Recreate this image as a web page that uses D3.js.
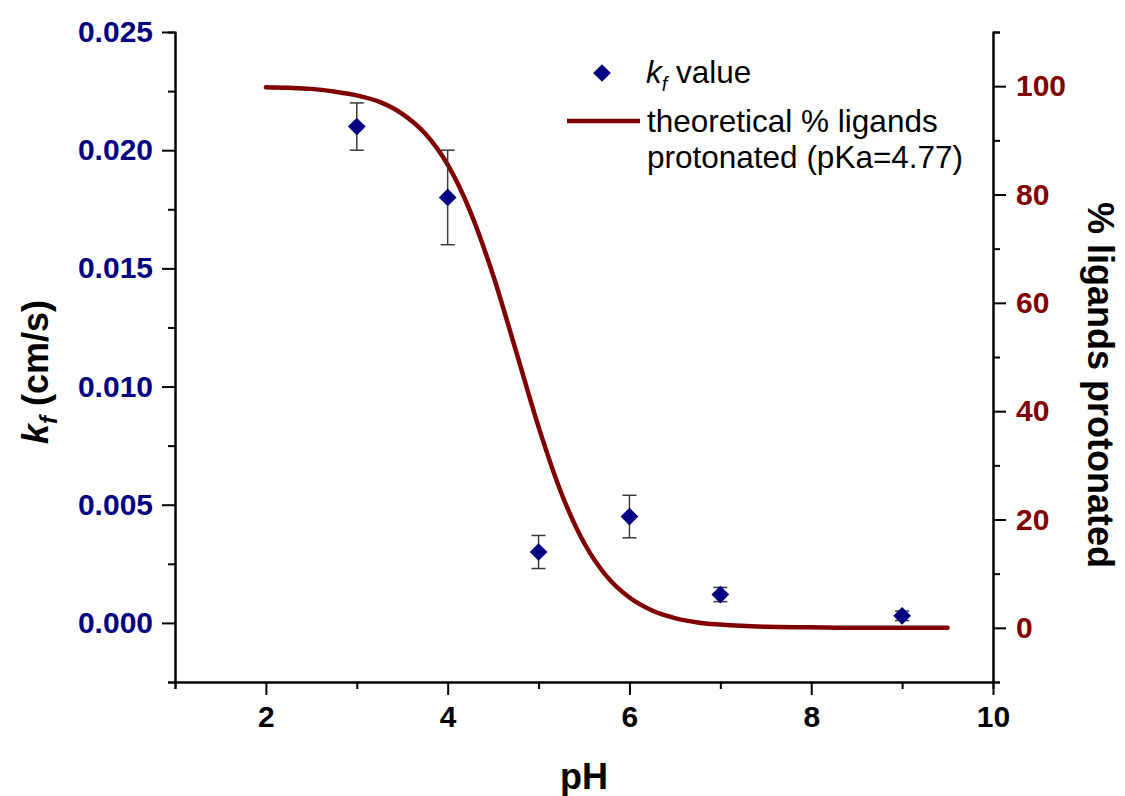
<!DOCTYPE html>
<html>
<head>
<meta charset="utf-8">
<script src="https://cdn.jsdelivr.net/npm/d3@7"></script>
<style>
  body { margin: 0; background: #fff; }
  svg text { font-family: Arial, "Liberation Sans", sans-serif; }
</style>
</head>
<body>
<svg id="chart" width="1125" height="796"></svg>
<script>
// measured kf values
var phValues = [3, 4, 5, 6, 7, 9];
var kfValues = [0.0210, 0.0180, 0.0030, 0.0045, 0.0012, 0.0003];
var kfErrUp = [0.0010, 0.0020, 0.0007, 0.0009, 0.0003, 0.0002];
var kfErrDown = [0.0010, 0.0020, 0.0007, 0.0009, 0.0003, 0.0002];

// theoretical curve
var curvePH = [2.0, 2.25, 2.5, 2.75, 3.0, 3.25, 3.5, 3.75, 4.0, 4.25, 4.5, 4.75, 5.0, 5.25, 5.5, 5.75, 6.0, 6.25, 6.5, 6.75, 7.0, 7.5, 8.0, 8.5, 9.0, 9.5];
var curvePct = [99.8, 99.7, 99.5, 99.0, 98.3, 97.1, 94.9, 91.3, 85.5, 76.8, 65.1, 51.2, 37.1, 24.9, 15.7, 9.5, 5.6, 3.2, 1.8, 1.0, 0.6, 0.2, 0.1, 0.0, 0.0, 0.0];

var xMajor = [2, 4, 6, 8, 10];
var xMinor = [1, 3, 5, 7, 9];
var yLeftMajor = [0, 0.005, 0.010, 0.015, 0.020, 0.025];
var yLeftMinor = [-0.0025, 0.0025, 0.0075, 0.0125, 0.0175, 0.0225];
var yRightMajor = [0, 20, 40, 60, 80, 100];
var yRightMinor = [-10, 10, 30, 50, 70, 90, 110];

var navy = "#000080",
    maroon = "#800000";

var svg = d3.select("#chart");
var plotLeft = 175, plotRight = 993, plotTop = 32, plotBottom = 682;

var x = d3.scaleLinear().domain([1, 10]).range([plotLeft, plotRight]);
var yL = d3.scaleLinear().domain([-0.0025, 0.025]).range([plotBottom, plotTop]);
var yR = d3.scaleLinear().domain([-10, 110]).range([plotBottom, plotTop]);

function styleAxis(g, color) {
    g.select(".domain").attr("stroke", "#000").attr("stroke-width", 2);
    g.selectAll(".tick line").attr("stroke", "#000").attr("stroke-width", 2);
    g.selectAll(".tick text")
        .attr("fill", color)
        .style("font-size", "30px")
        .style("font-weight", "bold");
}

// minor ticks first
svg.append("g")
    .attr("transform", "translate(0," + plotBottom + ")")
    .call(d3.axisBottom(x).tickValues(xMinor).tickSize(7).tickFormat(""))
    .call(function (g) { styleAxis(g, "#000"); });
svg.append("g")
    .attr("transform", "translate(" + plotLeft + ",0)")
    .call(d3.axisLeft(yL).tickValues(yLeftMinor).tickSize(7).tickFormat(""))
    .call(function (g) { styleAxis(g, navy); });
svg.append("g")
    .attr("transform", "translate(" + plotRight + ",0)")
    .call(d3.axisRight(yR).tickValues(yRightMinor).tickSize(7).tickFormat(""))
    .call(function (g) { styleAxis(g, maroon); });

// major ticks
svg.append("g")
    .attr("transform", "translate(0," + plotBottom + ")")
    .call(d3.axisBottom(x).tickValues(xMajor).tickSize(13).tickSizeOuter(0).tickPadding(11).tickFormat(d3.format("d")))
    .call(function (g) { styleAxis(g, "#000"); });
svg.append("g")
    .attr("transform", "translate(" + plotLeft + ",0)")
    .call(d3.axisLeft(yL).tickValues(yLeftMajor).tickSize(13).tickSizeOuter(0).tickPadding(9).tickFormat(d3.format(".3f")))
    .call(function (g) { styleAxis(g, navy); });
svg.append("g")
    .attr("transform", "translate(" + plotRight + ",0)")
    .call(d3.axisRight(yR).tickValues(yRightMajor).tickSize(13).tickSizeOuter(0).tickPadding(10).tickFormat(d3.format("d")))
    .call(function (g) { styleAxis(g, maroon); });

// theoretical curve
var line = d3.line()
    .x(function (d) { return x(d[0]); })
    .y(function (d) { return yR(d[1]); })
    .curve(d3.curveMonotoneX);

svg.append("path")
    .datum(d3.zip(curvePH, curvePct))
    .attr("d", line)
    .attr("fill", "none")
    .attr("stroke", maroon)
    .attr("stroke-width", 4.5)
    .attr("stroke-linecap", "round");

// error bars
var pts = phValues.map(function (p, i) {
    return { ph: p, kf: kfValues[i], up: kfErrUp[i], down: kfErrDown[i] };
});

var err = svg.append("g").attr("stroke", "#3a3a3a").attr("stroke-width", 1.5);
pts.forEach(function (d) {
    var cx = x(d.ph), y1 = yL(d.kf + d.up), y2 = yL(d.kf - d.down);
    err.append("line").attr("x1", cx).attr("x2", cx).attr("y1", y1).attr("y2", y2);
    err.append("line").attr("x1", cx - 7).attr("x2", cx + 7).attr("y1", y1).attr("y2", y1);
    err.append("line").attr("x1", cx - 7).attr("x2", cx + 7).attr("y1", y2).attr("y2", y2);
});

var diamond = d3.symbol().type(d3.symbolDiamond2).size(200);

svg.append("g")
    .selectAll("path")
    .data(pts)
    .enter().append("path")
    .attr("d", diamond)
    .attr("transform", function (d) { return "translate(" + x(d.ph) + "," + yL(d.kf) + ")"; })
    .attr("fill", navy);

// legend
var legend = svg.append("g");
legend.append("path")
    .attr("d", diamond)
    .attr("transform", "translate(602,73)")
    .attr("fill", navy);
var t1 = legend.append("text").attr("x", 646).attr("y", 83).style("font-size", "31.5px");
t1.append("tspan").style("font-style", "italic").text("k");
t1.append("tspan").style("font-style", "italic").style("font-size", "20px").attr("dy", 8).text("f");
t1.append("tspan").attr("dy", -8).text(" value");

legend.append("line")
    .attr("x1", 567).attr("x2", 640).attr("y1", 121).attr("y2", 121)
    .attr("stroke", maroon).attr("stroke-width", 4.5);
legend.append("text").attr("x", 647).attr("y", 132).style("font-size", "31.5px")
    .text("theoretical % ligands");
legend.append("text").attr("x", 647).attr("y", 168).style("font-size", "31.5px")
    .text("protonated (pKa=4.77)");

// axis titles
svg.append("text")
    .attr("x", (plotLeft + plotRight) / 2).attr("y", 789)
    .attr("text-anchor", "middle")
    .style("font-size", "36px").style("font-weight", "bold")
    .text("pH");

var lt = svg.append("text")
    .attr("transform", "translate(48,372) rotate(-90)")
    .attr("text-anchor", "middle")
    .style("font-size", "36px").style("font-weight", "bold");
lt.append("tspan").style("font-style", "italic").text("k");
lt.append("tspan").style("font-style", "italic").style("font-size", "24px").attr("dy", 9).text("f");
lt.append("tspan").attr("dy", -9).text(" (cm/s)");

svg.append("text")
    .attr("transform", "translate(1088,385) rotate(90)")
    .attr("text-anchor", "middle")
    .style("font-size", "36px").style("font-weight", "bold")
    .text("% ligands protonated");
</script>
</body>
</html>
